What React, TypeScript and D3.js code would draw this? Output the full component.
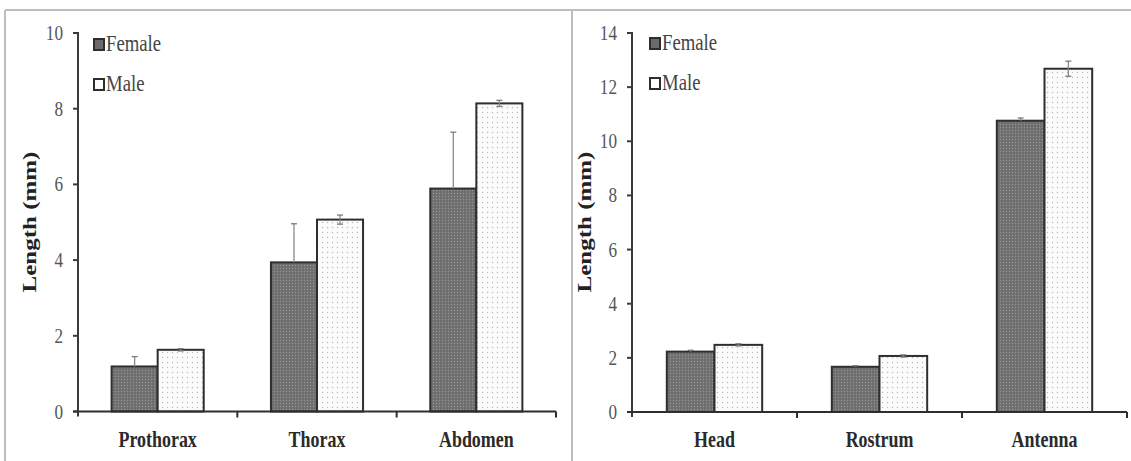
import React, { useEffect, useRef } from 'react';
import * as d3 from 'd3';

// body parts, mean lengths (mm) and error bars
const bodyParts = ['Prothorax', 'Thorax', 'Abdomen'];
const bodyFemale = [1.19, 3.94, 5.89];
const bodyMale = [1.63, 5.07, 8.14];
const bodyFemaleErr = [0.26, 1.02, 1.49];
const bodyMaleErr = [0.03, 0.12, 0.08];
const bodyTicks = [0, 2, 4, 6, 8, 10];

const headParts = ['Head', 'Rostrum', 'Antenna'];
const headFemale = [2.23, 1.67, 10.76];
const headMale = [2.48, 2.07, 12.68];
const headFemaleErr = [0.05, 0.04, 0.1];
const headMaleErr = [0.04, 0.04, 0.28];
const headTicks = [0, 2, 4, 6, 8, 10, 12, 14];

const seriesNames = ['Female', 'Male'];

const SX = 0.78; // the original figure is squeezed horizontally
const FONT = '"Liberation Serif", "Times New Roman", serif';

const App = () => {
  const ref = useRef(null);

  useEffect(() => {
    const svg = d3.select(ref.current);
    svg.selectAll('*').remove();

    // fill patterns
    const defs = svg.append('defs');
    const pf = defs.append('pattern').attr('id', 'patF').attr('patternUnits', 'userSpaceOnUse')
      .attr('width', 3).attr('height', 3);
    pf.append('rect').attr('width', 3).attr('height', 3).attr('fill', '#6e6e6e');
    pf.append('circle').attr('cx', 1.5).attr('cy', 1.5).attr('r', 0.7).attr('fill', '#969696');
    const pm = defs.append('pattern').attr('id', 'patM').attr('patternUnits', 'userSpaceOnUse')
      .attr('width', 5).attr('height', 5);
    pm.append('rect').attr('width', 5).attr('height', 5).attr('fill', '#fbfbfb');
    pm.append('circle').attr('cx', 2.5).attr('cy', 2.5).attr('r', 0.7).attr('fill', '#b8b8b8');

    // frame
    svg.append('line').attr('x1', 5).attr('x2', 1131).attr('y1', 10).attr('y2', 10)
      .attr('stroke', '#bdbdbd').attr('stroke-width', 2);
    svg.append('line').attr('x1', 5).attr('x2', 5).attr('y1', 10).attr('y2', 461)
      .attr('stroke', '#bdbdbd').attr('stroke-width', 2);
    svg.append('line').attr('x1', 572).attr('x2', 572).attr('y1', 10).attr('y2', 461)
      .attr('stroke', '#bdbdbd').attr('stroke-width', 2);

    const sqText = (g, x, y, txt, size, weight, anchor, fill) =>
      g.append('text')
        .attr('transform', `translate(${x},${y}) scale(${SX},1)`)
        .attr('text-anchor', anchor)
        .attr('font-family', FONT)
        .attr('font-size', size)
        .attr('font-weight', weight)
        .attr('fill', fill)
        .text(txt);

    const panel = (cfg) => {
      const g = svg.append('g');
      const y = d3.scaleLinear().domain([0, cfg.max]).range([cfg.y0, cfg.yTop]);
      const x0 = d3.scaleBand().domain(cfg.cats).range([cfg.xl, cfg.xr]);
      const x1 = d3.scaleBand().domain(seriesNames).range([0, x0.bandwidth()])
        .paddingInner(0).paddingOuter(0.73);

      const rows = cfg.cats.flatMap((c, i) => [
        { c, s: 'Female', v: cfg.female[i], e: cfg.femaleErr[i] },
        { c, s: 'Male', v: cfg.male[i], e: cfg.maleErr[i] },
      ]);

      // bars
      g.selectAll('rect.bar').data(rows).enter().append('rect')
        .attr('class', 'bar')
        .attr('x', d => x0(d.c) + x1(d.s))
        .attr('y', d => y(d.v))
        .attr('width', x1.bandwidth())
        .attr('height', d => y(0) - y(d.v))
        .attr('fill', d => d.s === 'Female' ? 'url(#patF)' : 'url(#patM)')
        .attr('stroke', '#2e2e2e')
        .attr('stroke-width', 2);

      // error bars (lower half is hidden inside the dark female bars)
      const cx = d => x0(d.c) + x1(d.s) + x1.bandwidth() / 2;
      const eb = g.selectAll('g.err').data(rows).enter().append('g').attr('class', 'err')
        .attr('stroke-width', 1.3);
      eb.append('line').attr('x1', cx).attr('x2', cx)
        .attr('y1', d => y(d.v)).attr('y2', d => y(d.v + d.e)).attr('stroke', '#8a8a8a');
      eb.append('line').attr('x1', d => cx(d) - 3).attr('x2', d => cx(d) + 3)
        .attr('y1', d => y(d.v + d.e)).attr('y2', d => y(d.v + d.e)).attr('stroke', '#7a7a7a');
      eb.filter(d => d.s === 'Male').append('line').attr('x1', cx).attr('x2', cx)
        .attr('y1', d => y(d.v - d.e)).attr('y2', d => y(d.v)).attr('stroke', '#8a8a8a');
      eb.filter(d => d.s === 'Male').append('line').attr('x1', d => cx(d) - 3).attr('x2', d => cx(d) + 3)
        .attr('y1', d => y(d.v - d.e)).attr('y2', d => y(d.v - d.e)).attr('stroke', '#7a7a7a');

      // y axis
      g.append('line').attr('x1', cfg.xl).attr('x2', cfg.xl)
        .attr('y1', y(cfg.max) - 1).attr('y2', y(0) + 5)
        .attr('stroke', '#3a3a3a').attr('stroke-width', 2);
      g.selectAll('line.ytick').data(cfg.ticks).enter().append('line')
        .attr('x1', cfg.xl - 5).attr('x2', cfg.xl)
        .attr('y1', d => y(d)).attr('y2', d => y(d))
        .attr('stroke', '#3a3a3a').attr('stroke-width', 2);
      cfg.ticks.forEach(t => sqText(g, cfg.xl - 15, y(t) + 7, String(t), 22, 'normal', 'end', '#555'));

      // x axis
      g.append('line').attr('x1', cfg.xl - 5).attr('x2', cfg.xr)
        .attr('y1', y(0)).attr('y2', y(0))
        .attr('stroke', '#2e2e2e').attr('stroke-width', 2);
      const edges = cfg.cats.map(c => x0(c)).concat([cfg.xr]);
      g.selectAll('line.xtick').data(edges.slice(1)).enter().append('line')
        .attr('x1', d => d).attr('x2', d => d)
        .attr('y1', y(0)).attr('y2', y(0) + 6)
        .attr('stroke', '#2e2e2e').attr('stroke-width', 2);
      cfg.cats.forEach(c => sqText(g, x0(c) + x0.bandwidth() / 2, 447, c, 23, 'bold', 'middle', '#2a2a2a'));

      // axis title
      g.append('text')
        .attr('transform', `translate(${cfg.titleX},222) scale(${SX},1) rotate(-90)`)
        .attr('text-anchor', 'middle')
        .attr('font-family', FONT)
        .attr('font-size', 25)
        .attr('font-weight', 'bold')
        .attr('fill', '#222')
        .text('Length (mm)');

      // legend
      seriesNames.forEach((s, i) => {
        const ly = cfg.legY + i * 40;
        g.append('rect').attr('x', cfg.legX).attr('y', ly - 12).attr('width', 10).attr('height', 11)
          .attr('fill', s === 'Female' ? '#6a6a6a' : '#fff')
          .attr('stroke', '#2e2e2e').attr('stroke-width', 2);
        sqText(g, cfg.legX + 12, ly, s, 24, 'normal', 'start', '#444');
      });
    };

    panel({
      cats: bodyParts, female: bodyFemale, male: bodyMale,
      femaleErr: bodyFemaleErr, maleErr: bodyMaleErr, ticks: bodyTicks, max: 10,
      xl: 78, xr: 556, y0: 411.5, yTop: 33, titleX: 36, legX: 94, legY: 51,
    });
    panel({
      cats: headParts, female: headFemale, male: headMale,
      femaleErr: headFemaleErr, maleErr: headMaleErr, ticks: headTicks, max: 14,
      xl: 632, xr: 1127, y0: 412, yTop: 33, titleX: 591, legX: 650, legY: 50,
    });
  }, []);

  return (
    <svg ref={ref} width={1131} height={461}
      style={{ position: 'absolute', left: 0, top: 0, background: '#fff' }} />
  );
};

export default App;
